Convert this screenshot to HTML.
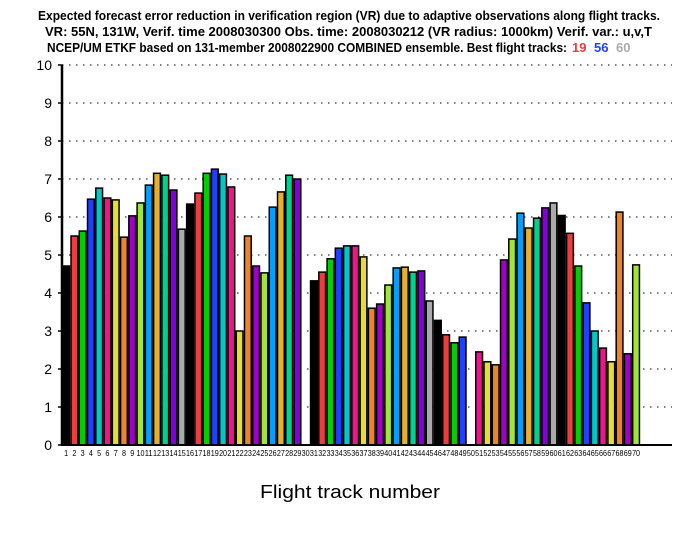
<!DOCTYPE html>
<html><head><meta charset="utf-8"><style>
html,body{margin:0;padding:0;background:#fff;width:700px;height:540px;overflow:hidden}
svg{display:block}
text{font-family:"Liberation Sans",sans-serif}
</style></head><body>
<svg id="s" width="700" height="540" xmlns="http://www.w3.org/2000/svg">
<g font-weight="bold" font-size="13">
<text x="38" y="20" textLength="622" lengthAdjust="spacingAndGlyphs">Expected forecast error reduction in verification region (VR) due to adaptive observations along flight tracks.</text>
<text x="45" y="36" textLength="607" lengthAdjust="spacingAndGlyphs">VR: 55N, 131W, Verif. time 2008030300 Obs. time: 2008030212 (VR radius: 1000km)  Verif. var.: u,v,T</text>
<text x="47" y="52" textLength="520" lengthAdjust="spacingAndGlyphs">NCEP/UM ETKF based on 131-member 2008022900 COMBINED ensemble.  Best flight tracks:</text>
<text x="572" y="52" fill="#f03c3c">19</text>
<text x="594" y="52" fill="#2040ff">56</text>
<text x="616" y="52" fill="#aaaaaa">60</text>
</g>
<text x="350" y="498" font-size="18" text-anchor="middle" textLength="180" lengthAdjust="spacingAndGlyphs">Flight track number</text>
<g id="g"></g>
</svg>
<script>
var v=[4.71,5.5,5.63,6.47,6.76,6.5,6.45,5.47,6.03,6.37,6.84,7.15,7.1,6.71,5.68,6.34,6.63,7.15,7.26,7.13,6.79,3.0,5.5,4.71,4.53,6.26,6.66,7.1,7.0,0,4.32,4.55,4.9,5.18,5.24,5.24,4.95,3.6,3.71,4.21,4.66,4.68,4.55,4.58,3.79,3.28,2.9,2.69,2.84,0,2.45,2.19,2.11,4.87,5.42,6.1,5.71,5.97,6.24,6.37,6.04,5.57,4.71,3.74,3.0,2.55,2.19,6.13,2.4,4.74];
var c=["#000000","#f03c3c","#00d000","#2040ff","#00c8c8","#f0148c","#e6dc32","#f08228","#a000c8","#a0e632","#00a0ff","#e6af2d","#00d28c","#8200dc","#aaaaaa"];
var h='',x0=62,w=8.26,y0=445,k=38;
for(var i=0;i<=10;i++){var y=y0-i*k;
 if(i>0)h+='<line x1="62" y1="'+y+'" x2="672" y2="'+y+'" stroke="#000" stroke-width="1" stroke-dasharray="1.5,5.5"/>';
 h+='<line x1="58" y1="'+y+'" x2="63" y2="'+y+'" stroke="#000" stroke-width="1.5"/>';
 h+='<text x="52" y="'+(y+5)+'" font-size="14" text-anchor="end">'+i+'</text>';}
for(var i=0;i<70;i++){var x=x0+i*w;
 if(v[i]>0){var t=y0-v[i]*k;
 h+='<rect x="'+(x+0.75)+'" y="'+t+'" width="'+(w-1.5)+'" height="'+(y0-t)+'" fill="'+c[i%15]+'" stroke="#000" stroke-width="1.5"/>';}
 h+='<text x="'+(x+w/2)+'" y="456" font-size="8" text-anchor="middle" textLength="'+(i<9?4:8)+'" lengthAdjust="spacingAndGlyphs">'+(i+1)+'</text>';}
h+='<line x1="62" y1="65" x2="62" y2="446" stroke="#000" stroke-width="2.5"/>';
h+='<line x1="62" y1="445" x2="672" y2="445" stroke="#000" stroke-width="2"/>';
document.getElementById('g').innerHTML=h;
</script>
</body></html>
